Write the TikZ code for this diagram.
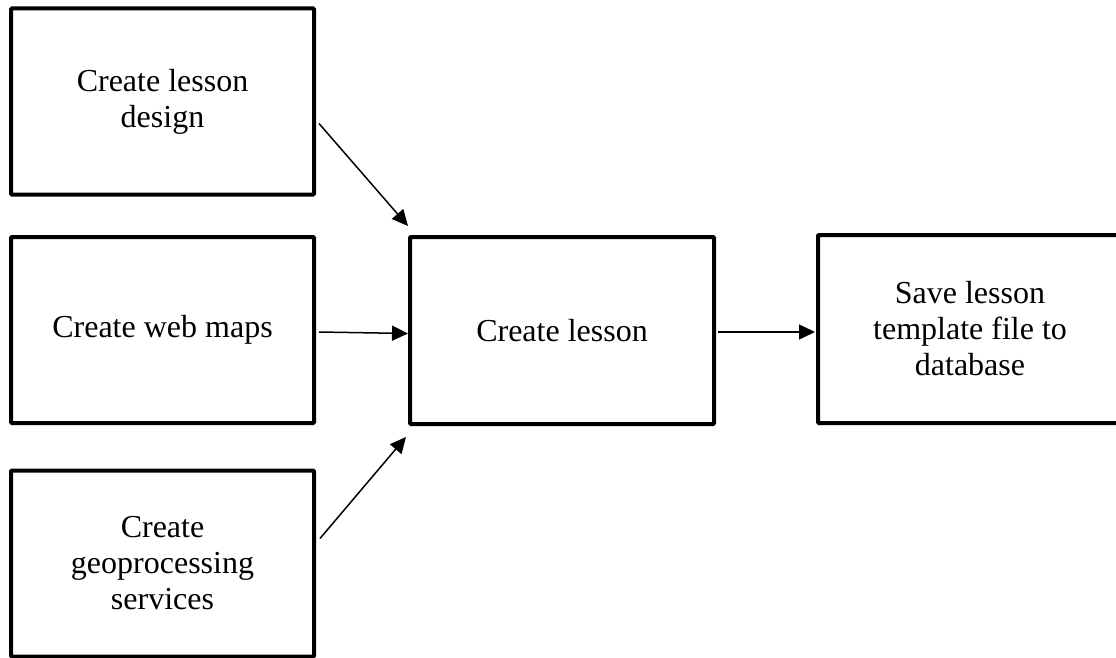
\documentclass[tikz,border=0pt]{standalone}
\usepackage{fontspec}
\setmainfont{Liberation Serif}
\usetikzlibrary{arrows.meta}

\tikzset{
    stepbox/.style={draw, line width=4pt, rounded corners=1pt, align=center,
        minimum width=303pt, minimum height=186pt, inner sep=0pt,
        font=\fontsize{32}{36}\selectfont},
    flow/.style={line width=1.5pt, -{Triangle[length=16pt,width=15pt]}}
}

\begin{document}
\begin{tikzpicture}[x=1pt, y=-1pt]
            \useasboundingbox (0,0) rectangle (1116,658);

            % Entradas
            \node[stepbox] (design) at (162.5,101.5) {Create lesson\\design};
            \node[stepbox] (maps)   at (162.5,330)   {Create web maps};
            \node[stepbox] (geo)    at (162.5,563.5) {Create\\geoprocessing\\services};

            % Centro y salida
            \node[stepbox, minimum width=304pt, minimum height=187pt] (lesson) at (562,330.5) {Create lesson};
            \node[stepbox, minimum width=304pt, minimum height=188pt] (save) at (970,329) {Save lesson\\template file to\\database};

            % Flechas
            \draw[flow] ([shift={(3,22)}]design.east) -- ([shift={(0,-9)}]lesson.north west);
            \draw[flow] ([shift={(3,2)}]maps.east) -- ([shift={(0,3)}]lesson.west);
            \draw[flow] ([shift={(4,-25)}]geo.east) -- ([shift={(-2,11)}]lesson.south west);
            \draw[flow] ([shift={(2,1.5)}]lesson.east) -- ([shift={(-1,3)}]save.west);
        \end{tikzpicture}
\end{document}
